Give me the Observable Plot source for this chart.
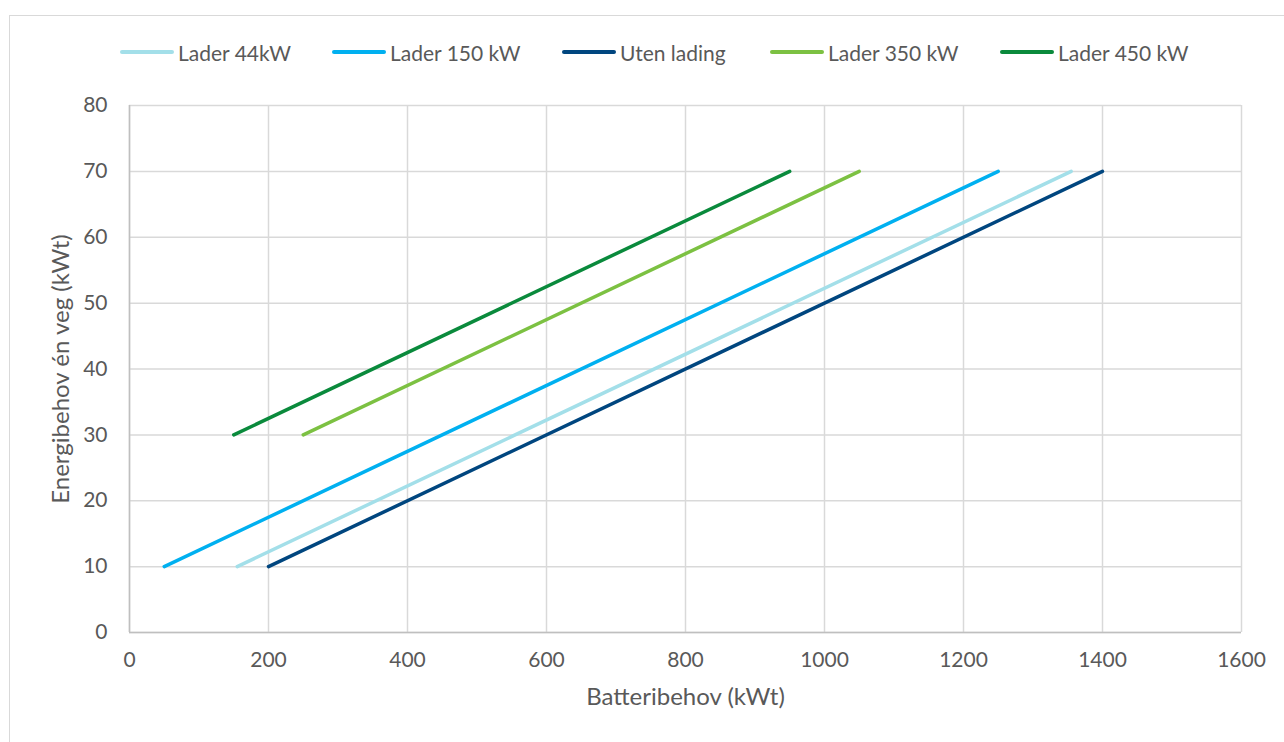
<!DOCTYPE html>
<html>
<head>
<meta charset="utf-8">
<script src="https://cdn.jsdelivr.net/npm/d3@7"></script>
<script src="https://cdn.jsdelivr.net/npm/@observablehq/plot@0.6"></script>
<style>
  html, body { margin: 0; padding: 0; background: #fff; }
  body { width: 1284px; height: 742px; overflow: hidden; position: relative; font-family: Lato, "Open Sans", sans-serif; }
  #frame { position: absolute; left: 9px; top: 15px; width: 1290px; height: 760px; border: 1.5px solid #d9d9d9; box-sizing: border-box; }
  #legend { position: absolute; left: 0; top: 0; width: 1284px; height: 80px; }
  .item { position: absolute; top: 40px; height: 24px; display: flex; align-items: center; font-size: 21px; color: #595959; white-space: nowrap; }
  .sw { width: 54px; height: 4px; border-radius: 2px; margin-right: 4px; }
  #chart { position: absolute; left: 0; top: 80px; }
</style>
</head>
<body>
<div id="frame"></div>
<div id="legend"></div>
<div id="chart"></div>
<script>
// Series (x = Batteribehov kWt, y = Energibehov én veg kWt)
const seriesNames = ["Lader 44kW", "Lader 150 kW", "Uten lading", "Lader 350 kW", "Lader 450 kW"];
const seriesColors = ["#a3dfe9", "#00b0f0", "#00467f", "#7cc142", "#0a8a3c"];
const lader44X = [155, 1355];   const lader44Y = [10, 70];
const lader150X = [50, 1250];   const lader150Y = [10, 70];
const utenX = [200, 1400];      const utenY = [10, 70];
const lader350X = [250, 1050];  const lader350Y = [30, 70];
const lader450X = [150, 950];   const lader450Y = [30, 70];
const xTicks = [0, 200, 400, 600, 800, 1000, 1200, 1400, 1600];
const yTicks = [0, 10, 20, 30, 40, 50, 60, 70, 80];
const legendX = [120, 332, 562, 770, 1000];

const xsAll = [lader44X, lader150X, utenX, lader350X, lader450X];
const ysAll = [lader44Y, lader150Y, utenY, lader350Y, lader450Y];
const data = [];
seriesNames.forEach((name, i) => {
  xsAll[i].forEach((x, j) => data.push({series: name, x, y: ysAll[i][j]}));
});

const font = "Lato, 'Open Sans', sans-serif";
const plot = Plot.plot({
  width: 1284,
  height: 662,
  marginTop: 25,
  marginBottom: 110,
  marginLeft: 129,
  marginRight: 43,
  style: {fontFamily: font, fontSize: "21px", color: "#595959", background: "transparent"},
  x: {domain: [0, 1600], ticks: xTicks, label: null},
  y: {domain: [0, 80], ticks: yTicks, label: null},
  color: {domain: seriesNames, range: seriesColors},
  marks: [
    Plot.gridX(xTicks, {stroke: "#d9d9d9", strokeOpacity: 1, strokeWidth: 1.5}),
    Plot.gridY(yTicks, {stroke: "#d9d9d9", strokeOpacity: 1, strokeWidth: 1.5}),
    Plot.ruleX([0], {stroke: "#bfbfbf", strokeWidth: 1.5}),
    Plot.ruleY([0], {stroke: "#bfbfbf", strokeWidth: 1.5}),
    Plot.axisX(xTicks, {tickSize: 0, tickPadding: 20, fill: "#595959", fontSize: 21, tickFormat: d => String(d)}),
    Plot.axisY(yTicks, {tickSize: 0, tickPadding: 22, fill: "#595959", fontSize: 21, tickFormat: d => String(d)}),
    Plot.line(data, {x: "x", y: "y", z: "series", stroke: "series", strokeWidth: 3.5, strokeLinecap: "round"}),
    Plot.text(["Batteribehov (kWt)"], {frameAnchor: "bottom", dy: 72, fill: "#595959", fontSize: 24}),
    Plot.text(["Energibehov én veg (kWt)"], {frameAnchor: "left", textAnchor: "middle", dx: -68, rotate: -90, fill: "#595959", fontSize: 24})
  ]
});
document.getElementById("chart").appendChild(plot);

const legend = document.getElementById("legend");
seriesNames.forEach((name, i) => {
  const item = document.createElement("div");
  item.className = "item";
  item.style.left = legendX[i] + "px";
  const sw = document.createElement("div");
  sw.className = "sw";
  sw.style.background = seriesColors[i];
  const t = document.createElement("span");
  t.textContent = name;
  item.appendChild(sw);
  item.appendChild(t);
  legend.appendChild(item);
});
</script>
</body>
</html>
